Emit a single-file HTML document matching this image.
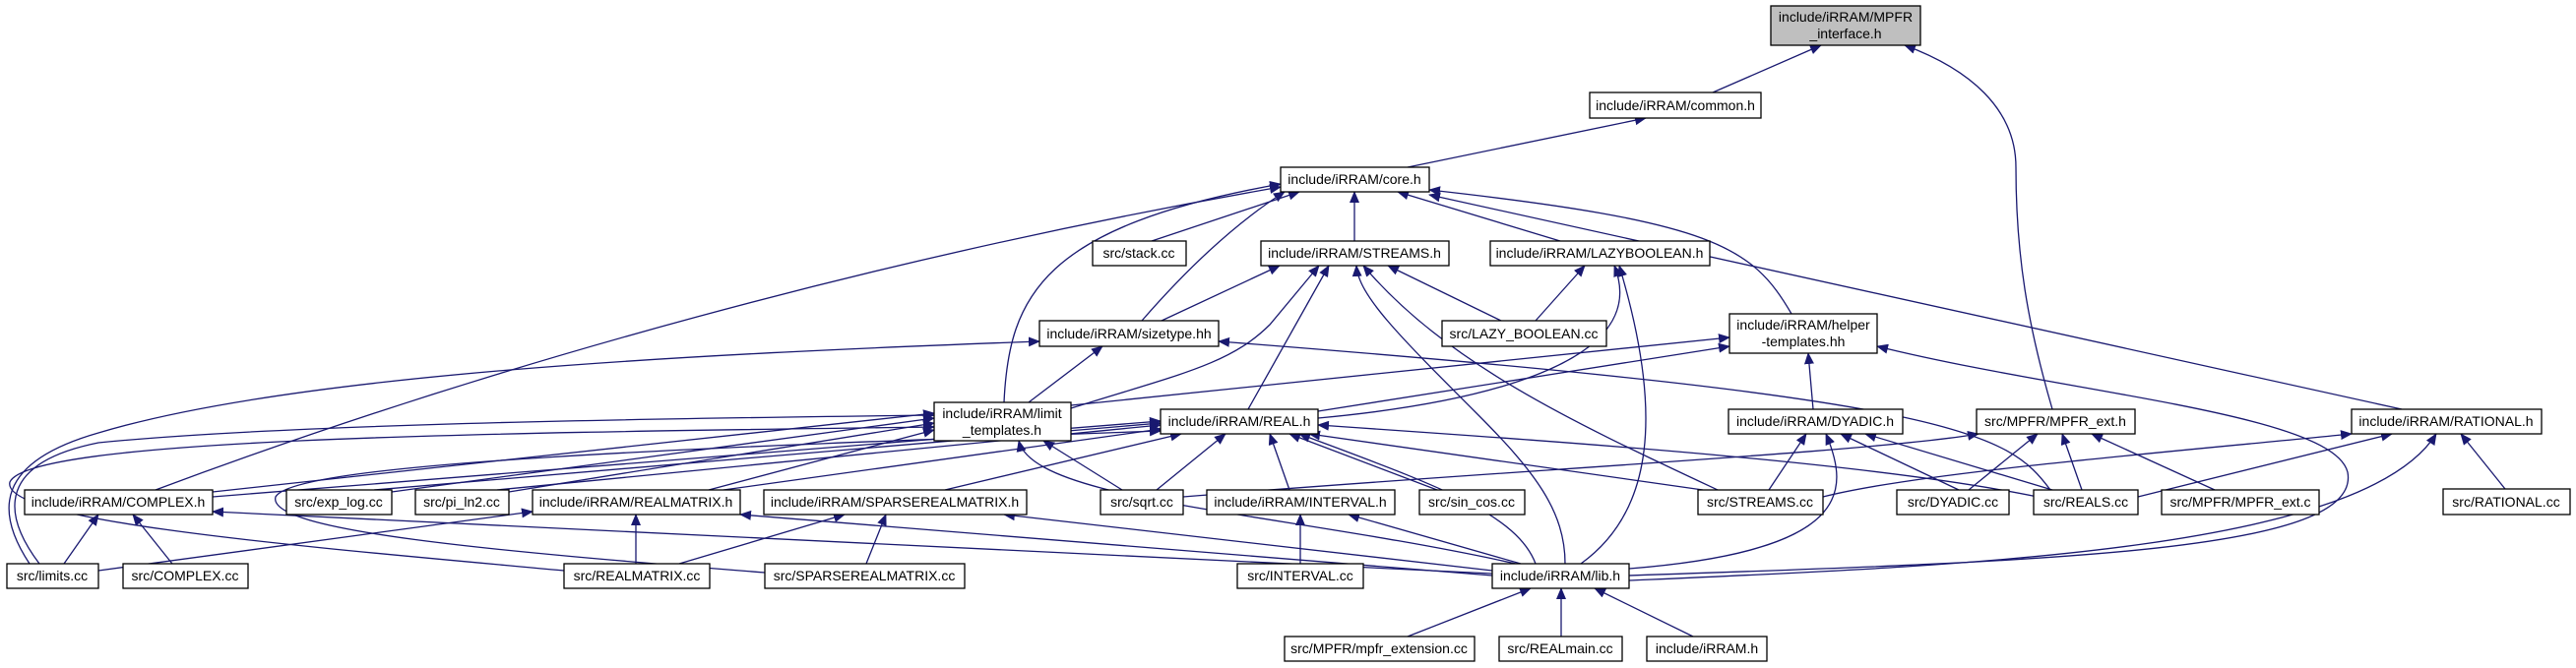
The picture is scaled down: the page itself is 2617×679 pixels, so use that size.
<!DOCTYPE html>
<html><head><meta charset="utf-8"><style>
html,body{margin:0;padding:0;background:#fff;}
svg{display:block;}
text{font-family:"Liberation Sans",sans-serif;font-size:14px;fill:#000;}
</style></head><body>
<svg width="2617" height="679" viewBox="0 0 2617 679" xmlns="http://www.w3.org/2000/svg">
<defs>
<marker id="a" viewBox="0 0 12 10" refX="11" refY="5" markerWidth="12" markerHeight="10" markerUnits="userSpaceOnUse" orient="auto">
<path d="M0,0 L12,5 L0,10 z" fill="#191970"/>
</marker>
</defs>
<g fill="none" stroke="#191970" stroke-width="1.3" marker-end="url(#a)">
<path d="M1740,94 L1850,46"/>
<path d="M2085,416 C2060,330 2048,260 2048,170 C2048,110 2000,70 1935,46"/>
<path d="M1430,170 L1672,120"/>
<path d="M1170,245 L1320,195"/>
<path d="M1376,245 L1376,195"/>
<path d="M1585,245 L1420,195"/>
<path d="M1820,319 C1780,250 1740,225 1452,193"/>
<path d="M2440,416 L1452,198"/>
<path d="M1160,326 C1200,280 1250,230 1305,195"/>
<path d="M1020,409 C1025,300 1060,230 1301,187"/>
<path d="M158,498 C500,370 900,260 1301,190"/>
<path d="M1180,326 L1300,270"/>
<path d="M1088,415 C1200,380 1250,370 1290,330 L1340,270"/>
<path d="M1268,416 L1350,270"/>
<path d="M1525,326 L1410,270"/>
<path d="M1745,498 C1600,430 1470,370 1385,270"/>
<path d="M1590,573 C1590,520 1560,480 1500,420 C1420,340 1380,300 1378,270"/>
<path d="M1560,326 L1610,270"/>
<path d="M1339,425 C1500,410 1680,370 1640,270"/>
<path d="M1606,573 C1680,520 1690,420 1645,270"/>
<path d="M1088,412 L1757,343"/>
<path d="M1339,418 L1757,352"/>
<path d="M1842,416 L1837,359"/>
<path d="M1655,585 C2100,570 2400,560 2385,480 C2370,420 2100,400 1907,352"/>
<path d="M2083,498 C2040,440 1990,405 1238,347"/>
<path d="M1730,498 L1330,441"/>
<path d="M2070,505 C1900,470 1600,450 1339,432"/>
<path d="M1460,498 L1310,441"/>
<path d="M1560,573 C1540,520 1450,490 1320,441"/>
<path d="M1310,498 L1290,441"/>
<path d="M1175,498 L1245,441"/>
<path d="M960,498 L1200,441"/>
<path d="M735,498 L1180,436"/>
<path d="M505,498 L1179,432"/>
<path d="M380,498 L1179,430"/>
<path d="M216,505 L1179,428"/>
<path d="M216,500 L949,420"/>
<path d="M398,500 L949,425"/>
<path d="M517,500 L949,430"/>
<path d="M720,498 L949,437"/>
<path d="M40,573 C0,520 0,470 100,450 C300,430 700,425 949,422"/>
<path d="M573,580 C300,555 0,530 10,490 C30,445 500,440 949,434"/>
<path d="M777,582 C500,560 270,540 280,505 C300,470 700,455 1179,438"/>
<path d="M1140,498 L1060,448"/>
<path d="M1540,573 C1300,520 1050,510 1035,448"/>
<path d="M1045,409 L1120,352"/>
<path d="M30,573 C-5,520 -5,470 100,440 C300,380 700,360 1056,347"/>
<path d="M175,573 L135,523"/>
<path d="M65,573 L100,523"/>
<path d="M1516,583 L216,520"/>
<path d="M646,573 L646,523"/>
<path d="M100,580 L541,520"/>
<path d="M1516,585 L752,523"/>
<path d="M690,573 L858,523"/>
<path d="M880,573 L900,523"/>
<path d="M1516,580 L1020,523"/>
<path d="M1321,573 L1321,523"/>
<path d="M1545,573 L1370,523"/>
<path d="M1797,498 L1835,441"/>
<path d="M1655,578 C1880,560 1880,500 1855,441"/>
<path d="M1990,498 L1870,441"/>
<path d="M2085,498 L1895,441"/>
<path d="M1202,505 C1500,480 1900,460 2010,441"/>
<path d="M2000,498 L2070,441"/>
<path d="M2115,498 L2095,441"/>
<path d="M2250,498 L2125,441"/>
<path d="M1852,505 C1950,480 2200,460 2389,441"/>
<path d="M2172,505 L2430,441"/>
<path d="M1655,590 C2000,575 2400,560 2475,441"/>
<path d="M2545,497 L2500,441"/>
<path d="M1430,647 L1555,598"/>
<path d="M1586,647 L1586,598"/>
<path d="M1720,647 L1620,598"/>
</g>
<g stroke="#000" stroke-width="1.3" fill="#fff">
<rect x="1799" y="6" width="152" height="40" fill="#bfbfbf"/>
<rect x="1615" y="94" width="174" height="26"/>
<rect x="1301" y="170" width="151" height="25"/>
<rect x="1110" y="245" width="95" height="25"/>
<rect x="1281" y="245" width="191" height="25"/>
<rect x="1514" y="245" width="223" height="25"/>
<rect x="1465" y="326" width="167" height="26"/>
<rect x="1757" y="319" width="150" height="40"/>
<rect x="1056" y="326" width="182" height="26"/>
<rect x="949" y="409" width="139" height="39"/>
<rect x="1179" y="416" width="160" height="25"/>
<rect x="1756" y="416" width="177" height="25"/>
<rect x="2008" y="416" width="161" height="25"/>
<rect x="2389" y="416" width="193" height="25"/>
<rect x="25" y="498" width="191" height="25"/>
<rect x="291" y="498" width="107" height="25"/>
<rect x="422" y="498" width="95" height="25"/>
<rect x="541" y="498" width="211" height="25"/>
<rect x="776" y="498" width="267" height="25"/>
<rect x="1118" y="498" width="84" height="25"/>
<rect x="1226" y="498" width="191" height="25"/>
<rect x="1442" y="498" width="107" height="25"/>
<rect x="1725" y="498" width="127" height="25"/>
<rect x="1927" y="498" width="114" height="25"/>
<rect x="2066" y="498" width="106" height="25"/>
<rect x="2196" y="498" width="160" height="25"/>
<rect x="2482" y="497" width="129" height="26"/>
<rect x="7" y="573" width="93" height="25"/>
<rect x="125" y="573" width="127" height="25"/>
<rect x="573" y="573" width="148" height="25"/>
<rect x="777" y="573" width="203" height="25"/>
<rect x="1257" y="573" width="128" height="25"/>
<rect x="1516" y="573" width="139" height="25"/>
<rect x="1305" y="647" width="193" height="25"/>
<rect x="1523" y="647" width="125" height="25"/>
<rect x="1673" y="647" width="122" height="25"/>
</g>
<g text-anchor="middle">
<text x="1875" y="22">include/iRRAM/MPFR</text>
<text x="1875" y="39">_interface.h</text>
<text x="1702" y="112">include/iRRAM/common.h</text>
<text x="1376" y="187">include/iRRAM/core.h</text>
<text x="1157" y="262">src/stack.cc</text>
<text x="1376" y="262">include/iRRAM/STREAMS.h</text>
<text x="1625" y="262">include/iRRAM/LAZYBOOLEAN.h</text>
<text x="1548" y="344">src/LAZY_BOOLEAN.cc</text>
<text x="1832" y="335">include/iRRAM/helper</text>
<text x="1832" y="352">-templates.hh</text>
<text x="1147" y="344">include/iRRAM/sizetype.hh</text>
<text x="1018" y="425">include/iRRAM/limit</text>
<text x="1018" y="442">_templates.h</text>
<text x="1259" y="433">include/iRRAM/REAL.h</text>
<text x="1844" y="433">include/iRRAM/DYADIC.h</text>
<text x="2088" y="433">src/MPFR/MPFR_ext.h</text>
<text x="2485" y="433">include/iRRAM/RATIONAL.h</text>
<text x="120" y="515">include/iRRAM/COMPLEX.h</text>
<text x="344" y="515">src/exp_log.cc</text>
<text x="469" y="515">src/pi_ln2.cc</text>
<text x="646" y="515">include/iRRAM/REALMATRIX.h</text>
<text x="909" y="515">include/iRRAM/SPARSEREALMATRIX.h</text>
<text x="1160" y="515">src/sqrt.cc</text>
<text x="1321" y="515">include/iRRAM/INTERVAL.h</text>
<text x="1495" y="515">src/sin_cos.cc</text>
<text x="1788" y="515">src/STREAMS.cc</text>
<text x="1984" y="515">src/DYADIC.cc</text>
<text x="2119" y="515">src/REALS.cc</text>
<text x="2276" y="515">src/MPFR/MPFR_ext.c</text>
<text x="2546" y="515">src/RATIONAL.cc</text>
<text x="53" y="590">src/limits.cc</text>
<text x="188" y="590">src/COMPLEX.cc</text>
<text x="647" y="590">src/REALMATRIX.cc</text>
<text x="878" y="590">src/SPARSEREALMATRIX.cc</text>
<text x="1321" y="590">src/INTERVAL.cc</text>
<text x="1585" y="590">include/iRRAM/lib.h</text>
<text x="1401" y="664">src/MPFR/mpfr_extension.cc</text>
<text x="1585" y="664">src/REALmain.cc</text>
<text x="1734" y="664">include/iRRAM.h</text>
</g>
</svg>
</body></html>
